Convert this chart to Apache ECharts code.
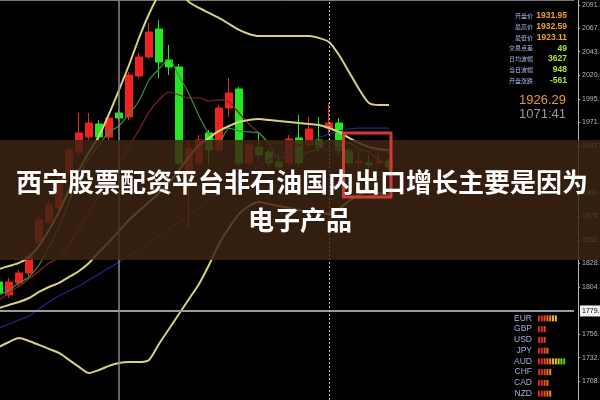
<!DOCTYPE html>
<html><head><meta charset="utf-8">
<script src="https://cdn.jsdelivr.net/npm/echarts@6/dist/echarts.min.js"></script>
<style>html,body{margin:0;padding:0;background:#000}#c{width:600px;height:400px}</style>
</head><body><div id="c"></div>
<script>
// ---- data ----
// candles: [open, close, low, high]
const candles = [
[1809.3,1798.1,1795.1,1812.4],[1796.1,1809.3,1793.0,1813.4],[1808.3,1818.5,1805.2,1821.5],[1818.5,1835.8,1815.4,1839.9],
[1850.1,1872.5,1847.0,1876.5],[1870.4,1887.7,1867.4,1892.8],[1884.7,1913.2,1880.6,1917.3],[1921.3,1943.7,1917.3,1947.8],
[1941.7,1961.1,1938.6,1981.4],[1957.0,1971.2,1953.9,1981.4],[1970.2,1957.0,1951.9,1974.3],[1957.0,1976.3,1953.9,1981.4],
[1981.4,1976.3,1973.3,1984.5],[1977.4,2020.1,1974.3,2023.2],[2019.1,2038.5,2017.1,2042.5],[2038.5,2063.9,2036.4,2073.1],
[2067.0,2033.4,2017.1,2076.1],[2035.4,2028.3,2020.1,2050.7],[2028.3,1930.5,1927.4,2031.3],[1918.3,1945.8,1864.3,1953.9],
[1930.5,1953.9,1927.4,1959.0],[1961.1,1943.7,1928.5,1964.1],[1943.7,1986.5,1940.7,1989.6],[1986.5,2001.8,1977.4,2017.1],
[2005.9,1930.5,1927.4,2007.9],[1930.5,1948.8,1927.4,1951.9],[1946.8,1938.6,1933.6,1962.1],[1941.7,1930.5,1926.4,1945.8],
[1931.5,1926.4,1923.4,1938.6],[1930.5,1954.9,1927.4,1959.0],[1956.0,1930.5,1927.4,1979.4],[1948.8,1965.1,1943.7,1977.4],
[1953.9,1945.8,1941.7,1977.4],[1966.1,1971.2,1959.0,1991.6],[1971.2,1943.7,1938.6,1976.3],[1943.7,1930.5,1927.4,1946.8],
[1930.5,1932.5,1923.4,1941.7],[1930.5,1928.5,1925.4,1938.6],[1930.5,1932.5,1927.4,1943.7],[1932.5,1926.4,1923.4,1935.6]
];
const upperBand = [1822.5,1825.6,1828.7,1834.8,1846.0,1862.3,1880.6,1903.0,1923.4,1941.7,1958.0,1980.4,2004.8,2030.3,2057.8,2082.2,2101.6,2108.7,2104.6,2094.5,2088.4,2083.3,2078.2,2072.1,2066.0,2061.9,2059.8,2059.8,2059.8,2059.8,2059.8,2059.8,2057.8,2053.7,2040.5,2023.2,2005.9,1991.6,1989.6,1989.6];
const middleBand = [1782.8,1785.9,1788.9,1793.0,1799.1,1804.2,1808.3,1814.4,1820.5,1828.7,1839.9,1850.1,1861.3,1872.5,1881.6,1890.8,1900.0,1910.1,1923.4,1936.6,1948.8,1956.0,1963.1,1968.2,1972.3,1974.3,1975.3,1974.3,1973.3,1972.3,1971.2,1970.2,1969.2,1966.1,1962.1,1956.0,1950.9,1946.8,1944.8,1943.7];
const lowerBand = [1743.1,1748.2,1752.3,1749.2,1745.2,1741.1,1737.0,1729.9,1722.8,1716.6,1719.7,1723.8,1726.8,1727.8,1727.8,1729.9,1746.2,1761.4,1776.7,1792.0,1807.3,1826.6,1848.0,1864.3,1878.6,1886.7,1890.8,1888.7,1886.7,1884.7,1882.6,1880.6,1880.6,1878.6,1883.7,1891.8,1897.9,1902.0,1899.9,1897.9];
const fastMA = [1796.1,1801.2,1808.3,1814.4,1826.6,1845.0,1865.3,1890.8,1915.2,1935.6,1948.8,1962.1,1968.2,1980.4,1993.6,2015.0,2026.2,2036.4,2019.1,2000.8,1978.4,1960.0,1951.9,1966.1,1963.1,1962.1,1961.1,1949.9,1934.6,1939.7,1936.6,1941.7,1944.8,1953.9,1950.9,1950.9,1944.8,1941.7,1933.6,1930.5];
const slowMA = [1791.0,1798.1,1805.2,1812.4,1820.5,1828.7,1833.8,1847.0,1863.3,1880.6,1896.9,1913.2,1929.5,1947.8,1964.1,1982.4,1994.7,2002.8,1999.8,1996.7,1996.7,1993.6,1994.7,1992.6,1981.4,1970.2,1961.1,1950.9,1950.9,1951.9,1948.8,1950.9,1946.8,1943.7,1945.8,1943.7,1942.7,1942.7,1943.7,1940.7];
const longMA = [1762.5,1766.5,1770.6,1774.7,1781.8,1788.9,1795.1,1800.1,1805.2,1811.3,1817.5,1823.6,1829.7,1835.8,1841.9,1849.0,1856.2,1863.3,1870.4,1877.5,1884.7,1891.8,1898.9,1906.1,1913.2,1920.3,1927.4,1933.6,1938.6,1943.7,1947.8,1951.9,1956.0,1960.0,1963.1,1965.1,1966.1,1966.1,1966.1,1966.1];
const tickLabels = [2091.4,2067.6,2043.8,2020.0,1995.9,1971.7,1947.9,1900.1,1876.1,1852.2,1828.2,1804.4,1756.1,1732.3,1708.5];
const yMin = 1689.1, yMax = 2096.5;
const slotCount = 58;
const crossPrice = 1779.8, crossIndex = 12, separatorIndex = 33;
const lastPrice = 1926.3;
const boxRange = [35, 39, 1961.1, 1895.9];
const infoLabels = ['开盘价','最高价','最低价','交易点差','日均波幅','当日波幅','开盘涨跌'];
const infoValues = ['1931.95','1932.59','1923.11','49','3627','948','-561'];
const bigPrice = '1926.29', countdown = '1071:41';
const currencies = ['EUR','GBP','USD','JPY','AUD','CHF','CAD','NZD'];
const strength = [7,3,3,4,10,5,4,5];
const titleLine1 = '西宁股票配资平台非石油国内出口增长主要是因为';
const titleLine2 = '电子产品';

// ---- styles ----
const segColors = ['#d82020','#e02a20','#e84a20','#ec6a20','#f08a20','#e8b020','#d8d020','#b0d820','#70d820','#40d020'];
const slots = Array.from({length: slotCount}, (_, i) => String(i));
const infoColors = ['#f0a030','#f0a030','#f0a030','#a8e838','#a8e838','#a8e838','#a8e838'];

const chart = echarts.init(document.getElementById('c'), null, {renderer: 'canvas'});
const lineS = (data, color, width) => ({type:'line', data, showSymbol:false, smooth:0.25, silent:true,
  lineStyle:{color, width}, z:3});

const graphics = [];
infoLabels.forEach((t, i) => {
  graphics.push({type:'text', z:60, style:{text:t, x:533, y:15.5 + i*10.9, fill:'#a8b8e8',
    font:'6px "Noto Sans CJK SC"', textAlign:'right', textVerticalAlign:'middle'}});
  graphics.push({type:'text', z:60, style:{text:infoValues[i], x:567, y:15.5 + i*10.9, fill:infoColors[i],
    font:'bold 8.5px "Liberation Sans"', textAlign:'right', textVerticalAlign:'middle'}});
});
graphics.push({type:'text', z:60, style:{text:bigPrice, x:566, y:100, fill:'#e89a30', font:'13px "Liberation Sans"', textAlign:'right', textVerticalAlign:'middle'}});
graphics.push({type:'text', z:60, style:{text:countdown, x:566, y:114, fill:'#9a9a9a', font:'13px "Liberation Sans"', textAlign:'right', textVerticalAlign:'middle'}});
graphics.push({type:'rect', z:80, shape:{x:0, y:140, width:600, height:120}, style:{fill:'rgba(62,36,18,0.84)'}});
graphics.push({type:'text', z:95, style:{text:titleLine1, x:302, y:182, fill:'#fff', font:'bold 26px "Noto Sans CJK SC"', textAlign:'center', textVerticalAlign:'middle'}});
graphics.push({type:'text', z:95, style:{text:titleLine2, x:300, y:220, fill:'#fff', font:'bold 26px "Noto Sans CJK SC"', textAlign:'center', textVerticalAlign:'middle'}});

chart.setOption({
  backgroundColor:'#000',
  animation:false,
  grid:[
    {left:-6, right:26, top:0, bottom:0, containLabel:false, outerBoundsMode:'none'},
    {left:538, width:28, top:313, height:86, containLabel:false, outerBoundsMode:'none'}
  ],
  xAxis:[
    {type:'category', data:slots, boundaryGap:true, position:'top', axisLine:{show:true, lineStyle:{color:'#777'}},
      axisTick:{show:false}, axisLabel:{show:false}, splitLine:{show:false}},
    {type:'value', gridIndex:1, min:0, max:10, show:false}
  ],
  yAxis:[
    {type:'value', position:'right', offset:4, min:yMin, max:yMax, scale:true,
      axisLine:{show:true, lineStyle:{color:'#b8b8b8'}},
      axisTick:{show:true, length:2, customValues:tickLabels, lineStyle:{color:'#b8b8b8'}},
      axisLabel:{customValues:tickLabels, formatter:v => v.toFixed(1), color:'#b8b8b8', fontSize:7, margin:4, fontFamily:'Liberation Sans'},
      splitLine:{show:false}},
    {type:'category', gridIndex:1, data:currencies, inverse:true,
      axisLine:{show:false}, axisTick:{show:false}, splitLine:{show:false},
      axisLabel:{interval:0, color:'#a0b0d8', fontSize:8.5, margin:6, fontFamily:'Liberation Sans'}}
  ],
  graphic: graphics,
  series:[
    {type:'candlestick', data:candles, barWidth:7, silent:true, z:2,
      itemStyle:{color:'#f02222', color0:'#22e822', borderColor:'#f02222', borderColor0:'#22e822', borderWidth:1},
      markLine:{symbol:'none', silent:true, animation:false, z:4,
        data:[
          {yAxis:crossPrice, lineStyle:{color:'#9a9a9a', width:2, type:'solid'},
            label:{show:true, position:'end', distance:6, formatter:crossPrice.toFixed(1), color:'#000', backgroundColor:'#f4f4f4',
              fontSize:7, padding:[2,2], fontFamily:'Liberation Sans'}},
          {xAxis:crossIndex, lineStyle:{color:'#8a8a8a', width:1.5, type:'solid'}, label:{show:false}},
          {xAxis:separatorIndex, lineStyle:{color:'#c8c8c8', width:1, type:[2,2]}, label:{show:false}},
          {yAxis:lastPrice, lineStyle:{opacity:0},
            label:{show:true, position:'end', distance:6, formatter:lastPrice.toFixed(1), color:'#000', backgroundColor:'#d8d8d8',
              fontSize:7, padding:[2,2], fontFamily:'Liberation Sans'}}
        ]}},
    lineS(longMA, '#24248c', 1.2),
    lineS(slowMA, '#862424', 1.2),
    lineS(fastMA, '#3e8e3e', 1.2),
    lineS(upperBand, '#d8d27a', 2),
    lineS(middleBand, '#d8d27a', 2),
    lineS(lowerBand, '#d8d27a', 2),
    {type:'custom', silent:true, z:85, data:[boxRange], encode:{x:[0,1], y:[2,3]},
      renderItem(params, api){
        const p1 = api.coord([api.value(0), api.value(2)]);
        const p2 = api.coord([api.value(1), api.value(3)]);
        const w = api.size([1,0])[0];
        return {type:'rect', shape:{x:p1[0]-w*0.55, y:p1[1], width:(p2[0]-p1[0])+w*0.75, height:p2[1]-p1[1]},
          style:{fill:'none', stroke:'#d23a3a', lineWidth:3}};
      }},
    {type:'custom', xAxisIndex:1, yAxisIndex:1, silent:true, data:strength.map((v,i)=>[v,i]), encode:{x:0, y:1},
      renderItem(params, api){
        const n = api.value(0), row = api.value(1);
        const unit = api.size([1,0])[0];
        const children = [];
        for (let k = 0; k < n; k++) {
          const p = api.coord([k, row]);
          children.push({type:'rect', shape:{x:p[0], y:p[1]-3, width:unit*0.72, height:6}, style:{fill:segColors[k]}});
        }
        return {type:'group', children};
      }}
  ]
});
</script></body></html>
